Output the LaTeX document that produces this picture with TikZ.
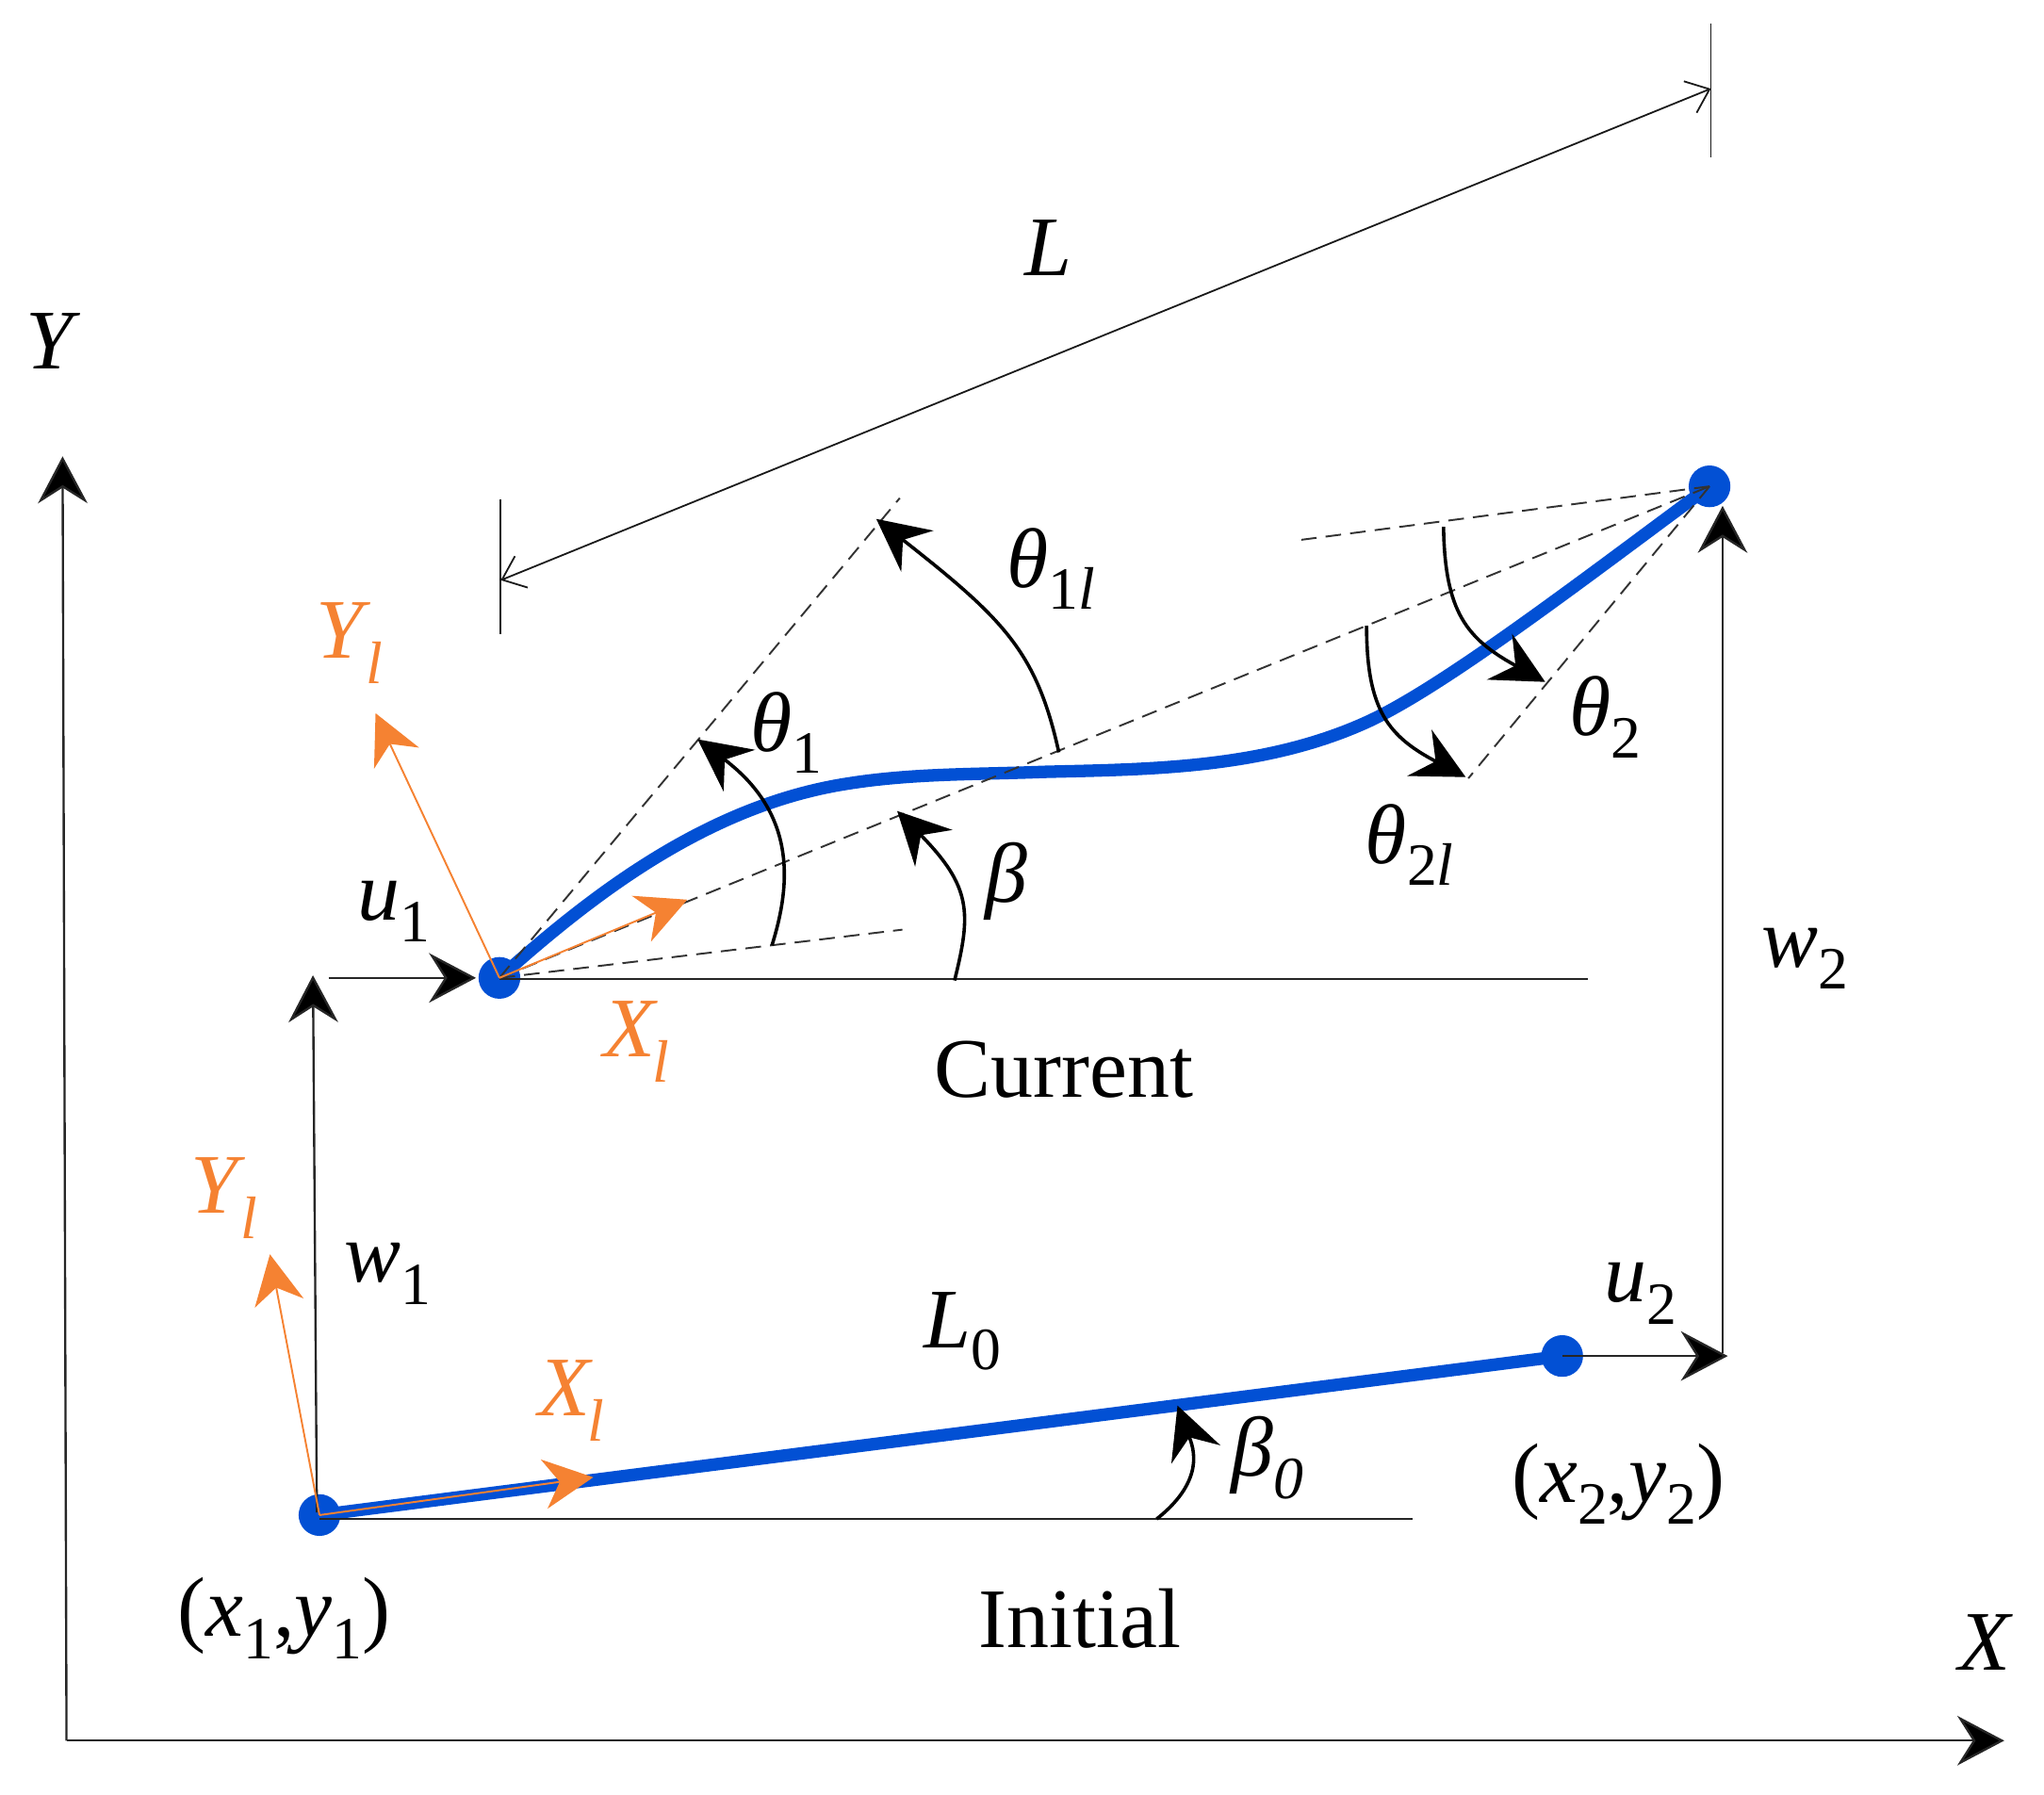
\documentclass[tikz,border=0pt]{standalone}
\usepackage{fontspec}
\setmainfont{Liberation Serif}
\usetikzlibrary{arrows.meta}
\definecolor{bluel}{RGB}{2,80,212}
\definecolor{orangel}{RGB}{245,130,50}
\newcommand{\vlab}[2]{\textit{#1}\raisebox{-0.26em}{\fontsize{23}{23}\selectfont #2}}
\newcommand{\olab}[1]{\textit{#1}\kern-0.06em\raisebox{-0.3em}{\fontsize{23}{23}\selectfont\textit{l}}}
\tikzset{
  x=0.5pt,y=-0.5pt,
  lab/.style={inner sep=0pt,font=\fontsize{32.5}{32.5}\selectfont},
  orangelab/.style={lab,text=orangel},
  thinline/.style={line width=0.85pt,black!85},
  axisarrow/.style={thinline,-{Stealth[length=18pt,width=19pt,inset=6pt,fill=black]}},
  anglearrow/.style={line width=1.3pt,black,-{Stealth[length=20pt,width=20pt,inset=7pt]}},
  dimarrow/.style={line width=0.65pt,black!90,{Straight Barb[length=8pt,width=13pt]}-{Straight Barb[length=8pt,width=13pt]}},
  dashline/.style={line width=0.7pt,black!80,dash pattern=on 6pt off 3.5pt},
  orangearrow/.style={line width=0.7pt,orangel,-{Stealth[length=19pt,width=19pt,inset=6pt]}},
  beam/.style={line width=4.8pt,bluel},
  dot/.style={circle,fill=bluel,inner sep=0pt,minimum size=16pt},
}
\begin{document}
\begin{tikzpicture}
\useasboundingbox (0,0) rectangle (1567.5,1376.7);
% coordinates
\coordinate (o) at (51,1335);
\coordinate (ytip) at (48,350);
\coordinate (xtip) at (1537,1335);
\coordinate (dimA) at (384,445);
\coordinate (dimB) at (1312,68);
\coordinate (tickAt) at (384,383);
\coordinate (tickAb) at (384,486);
\coordinate (tickBt) at (1312,18);
\coordinate (tickBb) at (1312,121);
\coordinate (curH) at (1218,751);
\coordinate (curH0) at (383,751);
\coordinate (iniH) at (1083,1165);
\coordinate (iniH0) at (245,1165);
\coordinate (u1s) at (252,750);
\coordinate (u1e) at (365,750);
\coordinate (w1s) at (243,1160);
\coordinate (w1e) at (240,748);
\coordinate (w2s) at (1321,1038);
\coordinate (w2e) at (1321,388);
\coordinate (u2e) at (1325,1040);
\coordinate (d1) at (690,382);
\coordinate (d2) at (692,713);
\coordinate (d3) at (998,414);
\coordinate (d4) at (1126,597);
\coordinate (ya) at (288,547);
\coordinate (xa) at (527,690);
\coordinate (yb) at (207,962);
\coordinate (xb) at (455,1133);
% curved beam and straight beam
\node[dot] (n1) at (383,750) {};
\node[dot] (n2) at (1311,373) {};
\node[dot] (i1) at (245,1162) {};
\node[dot] (i2) at (1198,1040) {};
\draw[beam,line cap=round] (n1.center) .. controls (450,690) and (540,618) .. (650,601) .. controls (700,593) and (750,594) .. (800,592) .. controls (880,590) and (970,590) .. (1050,553) .. controls (1110,525) and (1220,440) .. (n2.center);
\draw[beam] (i1.center) -- (i2.center);
% axes
\draw[axisarrow] (o) -- (ytip);
\draw[axisarrow] (o) -- (xtip);
% dimension
\draw[dimarrow] (dimA) -- (dimB);
\draw[line width=0.65pt,black!90] (tickAt) -- (tickAb);
\draw[line width=0.65pt,black!90] (tickBt) -- (tickBb);
% reference lines
\draw[thinline] (curH0) -- (curH);
\draw[thinline] (iniH0) -- (iniH);
\draw[axisarrow] (u1s) -- (u1e);
\draw[axisarrow] (w1s) -- (w1e);
\draw[axisarrow] (w2s) -- (w2e);
\draw[axisarrow] (i2.center) -- (u2e);
% dashed lines
\draw[dashline] (n1.center) -- (d1);
\draw[dashline] (n1.center) -- (n2.center);
\draw[dashline] (n1.center) -- (d2);
\draw[dashline] (n2.center) -- (d3);
\draw[dashline] (n2.center) -- (d4);
% angle arrows
\draw[anglearrow] (592,725) .. controls (606,680) and (612,625) .. (535,567);
\draw[anglearrow] (812,577) .. controls (795,500) and (770,475) .. (672,398);
\draw[anglearrow] (732,752) .. controls (745,700) and (745,680) .. (688,622);
\draw[anglearrow] (1107,404) .. controls (1108,470) and (1125,490) .. (1185,523);
\draw[anglearrow] (1048,480) .. controls (1048,545) and (1065,565) .. (1124,596);
\draw[anglearrow] (887,1165) .. controls (925,1135) and (915,1110) .. (903,1078);
% orange frames
\draw[orangearrow] (n1.center) -- (ya);
\draw[orangearrow] (n1.center) -- (xa);
\draw[orangearrow] (i1.center) -- (yb);
\draw[orangearrow] (i1.center) -- (xb);
% labels
\node[lab] (lY) at (41,262) {\textit{Y}};
\node[lab] (lX) at (1523,1260) {\textit{X}};
\node[lab] (lL) at (804,190) {\textit{L}};
\node[lab] (lt11) at (806,436) {\vlab{θ}{1\textit{l}}};
\node[lab] (lt1) at (603,562) {\vlab{θ}{1}};
\node[lab] (lt2) at (1231,550) {\vlab{θ}{2}};
\node[lab] (lt21) at (1081,648) {\vlab{θ}{2\textit{l}}};
\node[lab] (lb) at (772,676) {\textit{β}};
\node[lab] (lu1) at (302,699) {\vlab{u}{1}};
\node[lab] (lw2) at (1384,735) {\vlab{w}{2}};
\node[lab] (lw1) at (297,977) {\vlab{w}{1}};
\node[lab] (lu2) at (1258,992) {\vlab{u}{2}};
\node[lab] (lL0) at (738,1021) {\vlab{L}{0}};
\node[lab] (lb0) at (972,1118) {\vlab{β}{\textit{0}}};
\node[lab] (lx2) at (1241,1138) {(\vlab{x}{2},\vlab{y}{2})};
\node[lab] (lx1) at (218,1241) {(\vlab{x}{1},\vlab{y}{1})};
\node[lab] (lcur) at (816,820) {Current};
\node[lab] (lini) at (828,1241) {Initial};
\node[orangelab] (oX1) at (488,799) {\olab{X}};
\node[orangelab] (oY1) at (268,493) {\olab{Y}};
\node[orangelab] (oY2) at (172,919) {\olab{Y}};
\node[orangelab] (oX2) at (438,1074) {\olab{X}};
\end{tikzpicture}
\end{document}
